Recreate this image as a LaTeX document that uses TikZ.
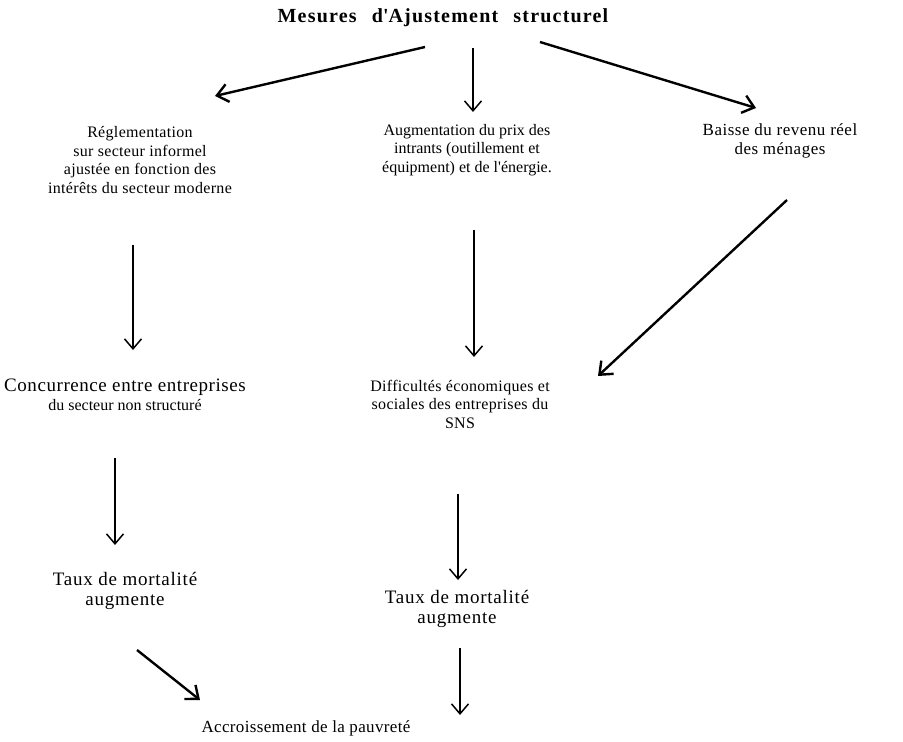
\documentclass[tikz,border=0pt]{standalone}
\usepackage{fontspec}
\setmainfont{Liberation Serif}
\usetikzlibrary{arrows.meta,positioning,calc}
\newcommand{\apos}{\textquotesingle}

\begin{document}
\begin{tikzpicture}[x=1pt,y=-1pt]
            \tikzstyle{every node}+=[inner sep=0pt,align=center,font=\fontsize{16}{18.5}\selectfont]
            \tikzstyle{large}=[font=\fontsize{19}{19.5}\selectfont\addfontfeatures{LetterSpace=4}]
            \tikzstyle{fleche}=[-{Straight Barb[length=10pt,width=17pt,line width=1.5pt]},line width=1.5pt]
            \tikzstyle{grosse}=[-{Straight Barb[length=11pt,width=18pt,line width=2.4pt]},line width=2.4pt]
            \useasboundingbox (0,0) rectangle (903,742);
            \node (titre) at (443,18) [font=\fontsize{20}{20}\bfseries\addfontfeatures{LetterSpace=6}] {Mesures\hspace{9pt} d\apos Ajustement\hspace{9pt} structurel};
            \node (regl) at (140,160) [font=\fontsize{16}{18.5}\selectfont\addfontfeatures{LetterSpace=2}] {R\'eglementation\\sur secteur informel\\ajust\'ee en fonction des\\int\'er\^ets du secteur moderne};
            \node (augm) at (467,150) {Augmentation du prix des\\intrants (outillement et\\\'equipment) et de l\apos\'energie.};
            \node (baisse) at (780,141) [font=\fontsize{17}{18.5}\selectfont\addfontfeatures{LetterSpace=3}] {Baisse du revenu r\'eel\\des m\'enages};
            \node (conc) at (125,395) {{\fontsize{19}{18.5}\selectfont\addfontfeatures{LetterSpace=3}Concurrence entre entreprises}\\du secteur non structur\'e};
            \node (diff) at (460,404) [font=\fontsize{16}{18.5}\selectfont\addfontfeatures{LetterSpace=2}] {Difficult\'es \'economiques et\\sociales des entreprises du\\SNS};
            \node (taux) at (125,591) [large] {Taux de mortalit\'e\\augmente};
            \node (tauxb) at (457,609) [large] {Taux de mortalit\'e\\augmente};
            \node (accr) at (306,728) [font=\fontsize{17}{18.5}\selectfont\addfontfeatures{LetterSpace=2}] {Accroissement de la pauvret\'e};
            % premier niveau
            \draw [grosse] ([xshift=-18pt,yshift=-29pt]titre.center) -- ([xshift=75pt,yshift=64pt]regl.center);
            \draw [fleche] ([xshift=30pt,yshift=-30pt]titre.center) -- ([xshift=6pt,yshift=38pt]augm.center);
            \draw [grosse] ([xshift=97pt,yshift=-24pt]titre.center) -- ([xshift=-24pt,yshift=33pt]baisse.center);
            % deuxieme niveau
            \draw [fleche] ([xshift=-7pt,yshift=-85pt]regl.center) -- ([xshift=8pt,yshift=45pt]conc.center);
            \draw [fleche] ([xshift=7pt,yshift=-80pt]augm.center) -- ([xshift=14pt,yshift=47pt]diff.center);
            \draw [grosse] ([xshift=7pt,yshift=-59pt]baisse.center) -- ([xshift=138pt,yshift=28pt]diff.center);
            % troisieme niveau
            \draw [fleche] ([xshift=-10pt,yshift=-63pt]conc.center) -- ([xshift=-10pt,yshift=46pt]taux.center);
            \draw [fleche] ([xshift=-2pt,yshift=-90pt]diff.center) -- ([xshift=1pt,yshift=29pt]tauxb.center);
            % vers la pauvrete
            \draw [grosse] ([xshift=12pt,yshift=-59pt]taux.center) -- ([xshift=-106pt,yshift=28pt]accr.center);
            \draw [fleche] ([xshift=3pt,yshift=-39pt]tauxb.center) -- ([xshift=154pt,yshift=13pt]accr.center);
\end{tikzpicture}
\end{document}
